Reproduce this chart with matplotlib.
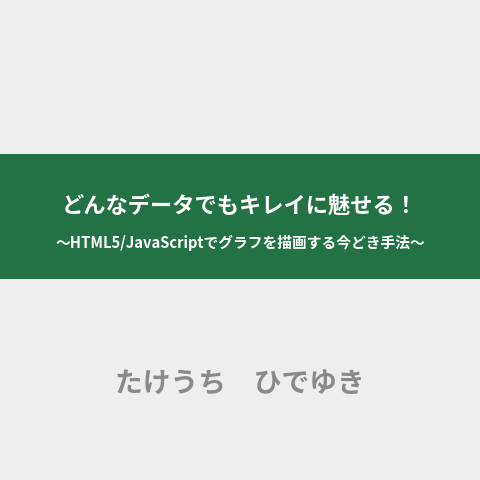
import matplotlib.pyplot as plt
from matplotlib.patches import Rectangle

plt.rcParams['font.family'] = ['Noto Sans CJK JP', 'DejaVu Sans']

# Text content
title = 'どんなデータでもキレイに魅せる！'
subtitle = '～HTML5/JavaScriptでグラフを描画する今どき手法～'
author = 'たけうち　ひでゆき'

bg_color = '#eeeeee'
band_color = '#237245'

fig = plt.figure(figsize=(4.8, 4.8), dpi=100, facecolor=bg_color)
ax = fig.add_axes([0, 0, 1, 1])
ax.set_xlim(0, 480)
ax.set_ylim(480, 0)
ax.axis('off')

# green band
ax.add_patch(Rectangle((0, 154), 480, 125, facecolor=band_color, edgecolor='none'))

ax.text(240, 206, title, color='white', fontsize=16, fontweight='bold',
        ha='center', va='center')
ax.text(240, 243, subtitle, color='white', fontsize=10.6, fontweight='bold',
        ha='center', va='center')
ax.text(240, 385, author, color='#8a8a8a', fontsize=20, fontweight='bold',
        ha='center', va='center')

fig.savefig('out.png', dpi=100, facecolor=bg_color)
